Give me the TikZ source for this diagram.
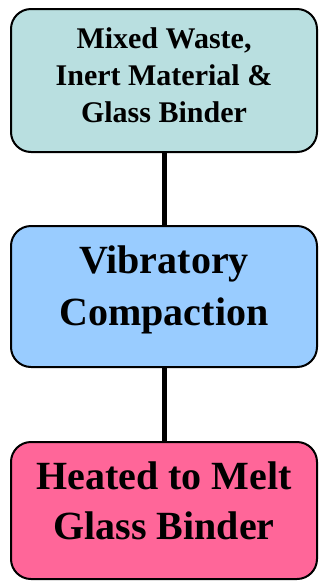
\documentclass[tikz,border=0pt]{standalone}
\usepackage{fontspec}
\setmainfont{Liberation Serif}
\definecolor{inputcol}{HTML}{B9DFE0}
\definecolor{compactcol}{HTML}{99CCFF}
\definecolor{heatcol}{HTML}{FF6699}
\tikzset{stepbox/.style={draw,line width=2pt,rounded corners=20pt,
    minimum width=306pt,align=center,font=\bfseries}}
\begin{document}
\begin{tikzpicture}[x=1pt,y=-1pt]
  \useasboundingbox (0,0) rectangle (320,582);
  \node[stepbox,fill=inputcol,minimum height=143pt,text depth=10pt,
    font=\bfseries\fontsize{30}{37}\selectfont] (mix) at (164,80.5)
    {Mixed Waste,\\Inert Material \&\\Glass Binder};
  \node[stepbox,fill=compactcol,minimum height=141pt,text depth=22pt,
    font=\bfseries\fontsize{40}{52}\selectfont] (vib) at (164,296.5)
    {Vibratory\\Compaction};
  \node[stepbox,fill=heatcol,minimum height=137pt,text depth=20pt,
    font=\bfseries\fontsize{40}{50}\selectfont] (heat) at (164,510.5)
    {Heated to Melt\\Glass Binder};
  % joining bars
  \draw[line width=5pt] (mix.south) -- (vib.north);
  \draw[line width=5pt] (vib.south) -- (heat.north);
\end{tikzpicture}
\end{document}
